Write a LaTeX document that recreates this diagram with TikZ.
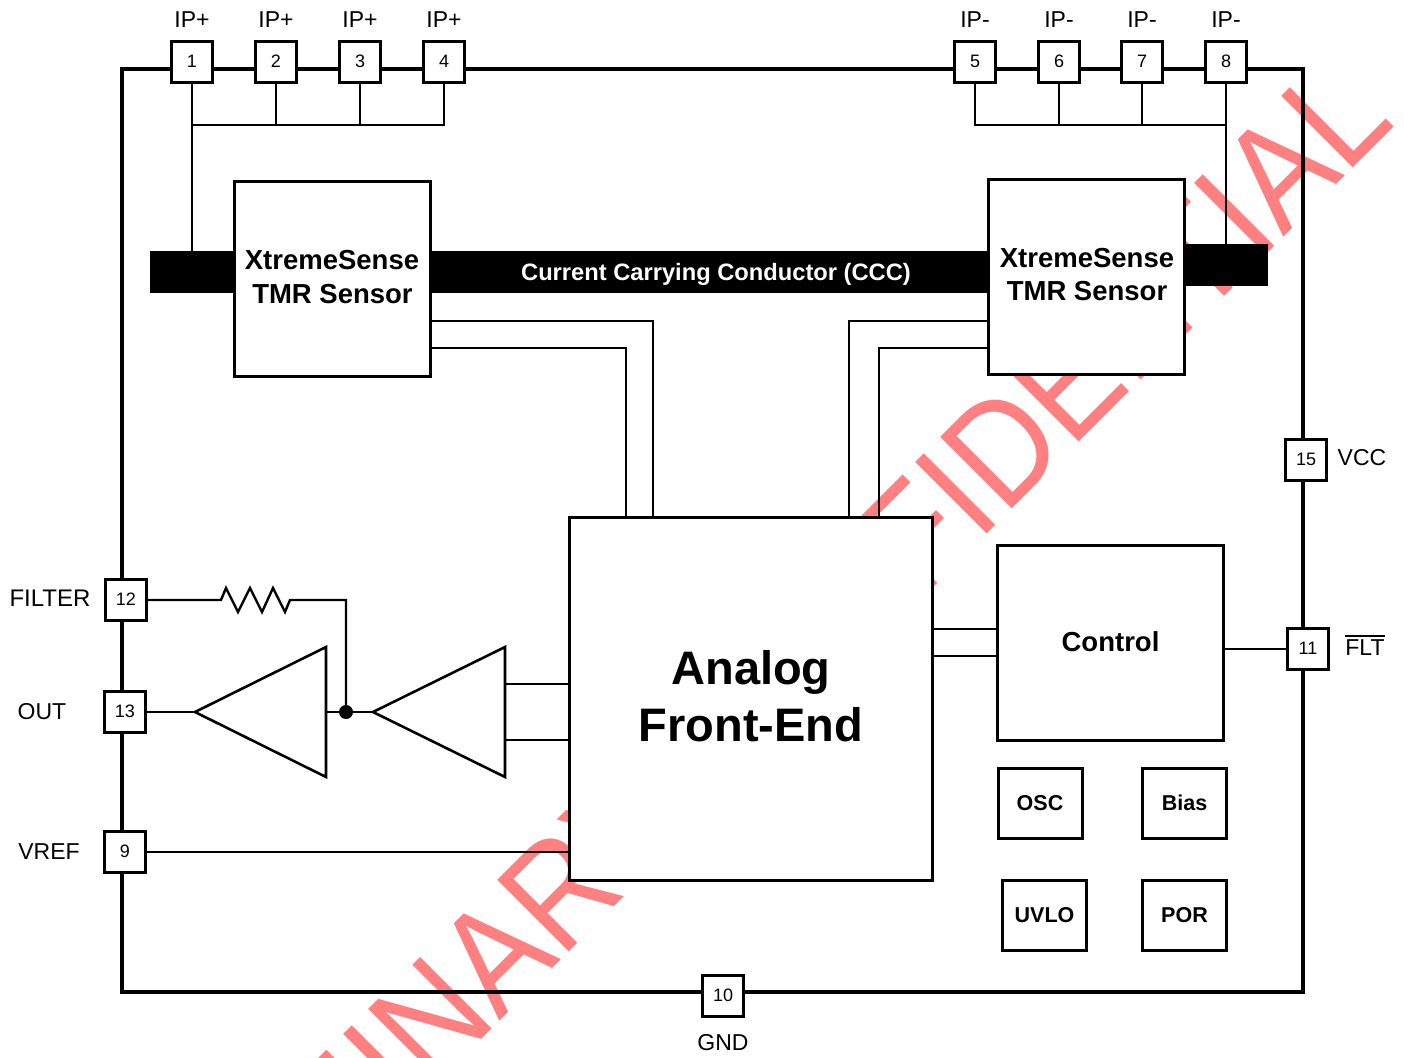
\documentclass[tikz,border=0pt]{standalone}
\usepackage{fontspec}
\usepackage{graphicx}
\setmainfont{Liberation Sans}
\definecolor{wm}{HTML}{FF8080}
\newcommand{\fsz}[1]{\fontsize{#1}{#1}\selectfont}
\newcommand{\barredtext}[1]{\setbox0\hbox{#1}\rlap{\raisebox{18.5pt}{\rule{\wd0}{1.7pt}}}\box0}
\tikzset{
  pinbox/.style={draw=black,fill=white,line width=3pt,minimum width=41pt,minimum height=41pt,inner sep=0pt,font=\fsz{18}},
  pinlabel/.style={inner sep=0pt,font=\fsz{23}},
  block/.style={draw=black,fill=white,line width=3pt,inner sep=0pt,align=center,font=\fsz{27.5}\bfseries},
  smallblock/.style={block,minimum width=84pt,minimum height=70pt,font=\fsz{21.5}\bfseries},
  wire/.style={draw=black,line width=2pt,line join=miter},
  bar/.style={fill=black,draw=none,inner sep=0pt},
  watermark/.style={inner sep=0pt,text=wm,rotate=45,anchor=base east},
}
\begin{document}
\begin{tikzpicture}[x=1pt,y=-1pt]
\useasboundingbox (0,0) rectangle (1404,1057);
\begin{scope}
\clip (0,0) rectangle (1404,1057);
\node[watermark,font=\fsz{147}] (wmA) at (1397.3,123.3) {\scalebox{0.895}[1]{PRELIMINARY CONFIDENTIAL}};
\end{scope}
% package outline
\node[draw=black,line width=3.4pt,minimum width=1181pt,minimum height=923pt,inner sep=0pt] (pkg) at (712.5,530.5) {};
% conductor
\node[bar,minimum width=840pt,minimum height=42pt] (cccL) at (570,272) {};
\node[bar,minimum width=90pt,minimum height=42pt] (cccR) at (1223,265) {};
% blocks
\node[block,minimum width=196pt,minimum height=195pt] (sL) at (332,278.5) {};
\node[block,minimum width=196pt,minimum height=195pt] (sR) at (1086.5,276.5) {};
\node[block,minimum width=363pt,minimum height=363pt] (afe) at (751,698.5) {};
\node[block,minimum width=226pt,minimum height=195pt] (ctl) at (1110.5,642.5) {};
\node[smallblock] (osc) at (1040,803.5) {\raisebox{2pt}{OSC}};
\node[smallblock] (bias) at (1184.5,803.5) {\raisebox{2pt}{Bias}};
\node[smallblock] (uvlo) at (1044.5,915.5) {\raisebox{2pt}{UVLO}};
\node[smallblock] (por) at (1184.5,915.5) {\raisebox{2pt}{POR}};
% block text
\node[inner sep=0pt,font=\fsz{27.5}\bfseries] (sL1) at (332,260) {XtremeSense};
\node[inner sep=0pt,font=\fsz{27.5}\bfseries] (sL2) at (332.5,294) {TMR Sensor};
\node[inner sep=0pt,font=\fsz{27.5}\bfseries] (sR1) at (1087,258) {XtremeSense};
\node[inner sep=0pt,font=\fsz{27.5}\bfseries] (sR2) at (1087,291) {TMR Sensor};
\node[inner sep=0pt,text=white,font=\fsz{23.7}\bfseries] (ccct) at (716,274) {Current Carrying Conductor (CCC)};
\node[inner sep=0pt,font=\fsz{47}\bfseries] (afe1) at (751,672) {Analog};
\node[inner sep=0pt,font=\fsz{47}\bfseries] (afe2) at (751,725) {Front-End};
\node[inner sep=0pt,font=\fsz{27.5}\bfseries] (ctlt) at (1110.5,641.5) {Control};
% amplifiers
\coordinate (a2tip) at (195,712);
\coordinate (a2top) at (326,647);
\coordinate (a2bot) at (326,777);
\coordinate (a1tip) at (373,712);
\coordinate (a1top) at (505,647);
\coordinate (a1bot) at (505,777);
\draw[wire,line width=2.6pt,fill=white] (a2tip) -- (a2top) -- (a2bot) -- cycle;
\draw[wire,line width=2.6pt,fill=white] (a1tip) -- (a1top) -- (a1bot) -- cycle;
% pins
\foreach \n/\x/\y in {1/192/62,2/276/62,3/360/62,4/444/62,5/975/62,6/1059/62,7/1142/62,8/1226/62,
  15/1306/460,11/1308/649,12/126/600,13/125/712,9/125/852,10/723/996}
  \node[pinbox] (p\n) at (\x,\y) {\raisebox{0.6pt}{\n}};
\foreach \n/\x in {a/192,b/276,c/360,d/444} \node[pinlabel] (lp\n) at (\x,20) {IP+};
\foreach \n/\x in {e/975,f/1059,g/1142,h/1226} \node[pinlabel] (lm\n) at (\x,20) {IP-};
\node[pinlabel] (lvcc) at (1362,458) {VCC};
\node[pinlabel,anchor=base] (lflt) at (1365,655) {\barredtext{FLT}};
\node[pinlabel,font=\fsz{24}] (lfil) at (50,598) {FILTER};
\node[pinlabel] (lout) at (42,712) {OUT};
\node[pinlabel] (lvref) at (49,852) {VREF};
\node[pinlabel] (lgnd) at (723,1043) {GND};
% IP+ bus
\coordinate (bL) at (192,125);
\coordinate (bL2) at (276,125);
\coordinate (bL3) at (360,125);
\coordinate (bL4) at (444,125);
\coordinate (cL) at (192,251);
\draw[wire] (p1.south) -- (bL) -- (cL);
\draw[wire] (p2.south) -- (bL2);
\draw[wire] (p3.south) -- (bL3);
\draw[wire] (p4.south) -- (bL4) -- (bL);
% IP- bus
\coordinate (bR5) at (975,125);
\coordinate (bR6) at (1059,125);
\coordinate (bR7) at (1142,125);
\coordinate (bR) at (1226,125);
\coordinate (cR) at (1226,244);
\draw[wire] (p5.south) -- (bR5) -- (bR);
\draw[wire] (p6.south) -- (bR6);
\draw[wire] (p7.south) -- (bR7);
\draw[wire] (p8.south) -- (bR) -- (cR);
% sensors to AFE
\draw[wire] (sL.east |- 0,321) -| (afe.north -| 653,0);
\draw[wire] (sL.east |- 0,348) -| (afe.north -| 626,0);
\draw[wire] (sR.west |- 0,321) -| (afe.north -| 849,0);
\draw[wire] (sR.west |- 0,348) -| (afe.north -| 879,0);
% AFE to control
\draw[wire] (afe.east |- 0,629) -- (ctl.west |- 0,629);
\draw[wire] (afe.east |- 0,656) -- (ctl.west |- 0,656);
\draw[wire] (ctl.east |- p11.west) -- (p11.west);
% AFE to amplifier
\draw[wire] (a1top |- 0,684) -- (afe.west |- 0,684);
\draw[wire] (a1top |- 0,740) -- (afe.west |- 0,740);
% amplifier chain
\coordinate (junc) at (346,712);
\draw[wire] (p13.east) -- (a2tip);
\draw[wire] (a2top |- junc) -- (a1tip);
\fill[black] (junc) circle (7pt);
% filter
\coordinate (r0) at (221,600);
\coordinate (r7) at (290,600);
\coordinate (fc) at (346,600);
\draw[wire,line width=2.4pt,line join=miter] (p12.east) -- (r0) -- (226,588) -- (238,612) -- (250,588) -- (262,612) -- (273,588) -- (285,612) -- (r7) -- (fc) -- (junc);
% VREF
\draw[wire] (p9.east) -- (afe.west |- p9.east);
\end{tikzpicture}
\end{document}
